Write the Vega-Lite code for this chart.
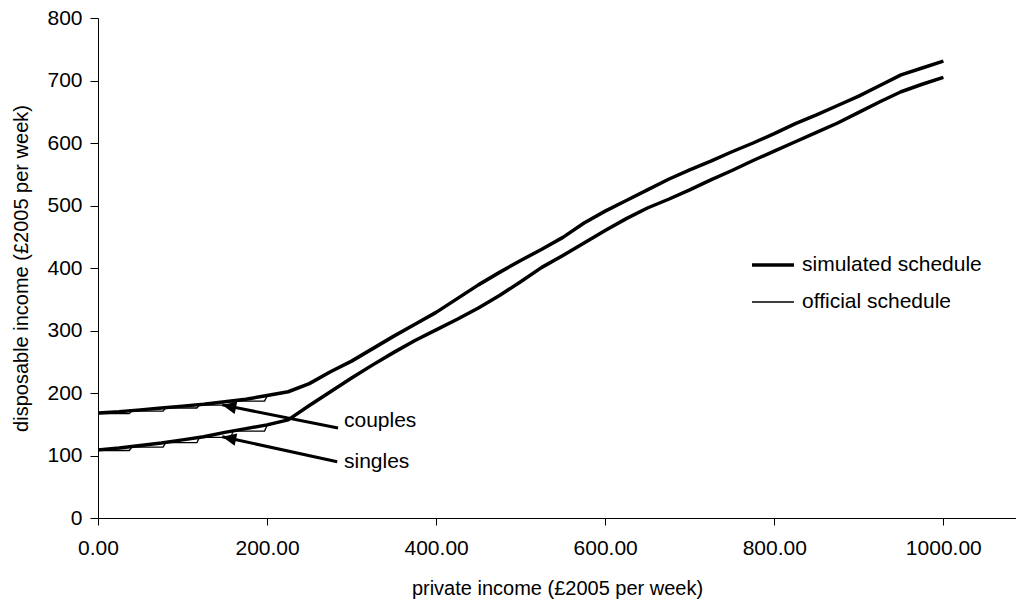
{
  "$schema": "https://vega.github.io/schema/vega-lite/v6.json",
  "width": 918,
  "height": 500,
  "autosize": {"type": "none"},
  "padding": {"left": 98, "top": 18, "right": 0, "bottom": 88},
  "background": "white",
  "config": {
    "font": "Liberation Sans",
    "view": {"stroke": null},
    "axis": {
      "grid": false,
      "domainColor": "#000000",
      "domainWidth": 1,
      "tickColor": "#000000",
      "tickWidth": 1,
      "labelColor": "#000000",
      "titleColor": "#000000",
      "labelFont": "Liberation Sans",
      "titleFont": "Liberation Sans",
      "labelFontSize": 21,
      "titleFontSize": 20,
      "titleFontWeight": "normal"
    }
  },
  "datasets": {
    "schedules": [
      {"household": "couples", "schedule": "simulated schedule", "income": 0, "disposable": 168},
      {"household": "couples", "schedule": "simulated schedule", "income": 25, "disposable": 170},
      {"household": "couples", "schedule": "simulated schedule", "income": 50, "disposable": 173},
      {"household": "couples", "schedule": "simulated schedule", "income": 75, "disposable": 176},
      {"household": "couples", "schedule": "simulated schedule", "income": 100, "disposable": 179},
      {"household": "couples", "schedule": "simulated schedule", "income": 125, "disposable": 182},
      {"household": "couples", "schedule": "simulated schedule", "income": 150, "disposable": 186},
      {"household": "couples", "schedule": "simulated schedule", "income": 175, "disposable": 190},
      {"household": "couples", "schedule": "simulated schedule", "income": 200, "disposable": 196},
      {"household": "couples", "schedule": "simulated schedule", "income": 225, "disposable": 202},
      {"household": "couples", "schedule": "simulated schedule", "income": 250, "disposable": 215},
      {"household": "couples", "schedule": "simulated schedule", "income": 275, "disposable": 234},
      {"household": "couples", "schedule": "simulated schedule", "income": 300, "disposable": 251},
      {"household": "couples", "schedule": "simulated schedule", "income": 325, "disposable": 271},
      {"household": "couples", "schedule": "simulated schedule", "income": 350, "disposable": 291},
      {"household": "couples", "schedule": "simulated schedule", "income": 375, "disposable": 310},
      {"household": "couples", "schedule": "simulated schedule", "income": 400, "disposable": 329},
      {"household": "couples", "schedule": "simulated schedule", "income": 425, "disposable": 351},
      {"household": "couples", "schedule": "simulated schedule", "income": 450, "disposable": 373},
      {"household": "couples", "schedule": "simulated schedule", "income": 475, "disposable": 393},
      {"household": "couples", "schedule": "simulated schedule", "income": 500, "disposable": 412},
      {"household": "couples", "schedule": "simulated schedule", "income": 525, "disposable": 430},
      {"household": "couples", "schedule": "simulated schedule", "income": 550, "disposable": 449},
      {"household": "couples", "schedule": "simulated schedule", "income": 575, "disposable": 472},
      {"household": "couples", "schedule": "simulated schedule", "income": 600, "disposable": 491},
      {"household": "couples", "schedule": "simulated schedule", "income": 625, "disposable": 508},
      {"household": "couples", "schedule": "simulated schedule", "income": 650, "disposable": 525},
      {"household": "couples", "schedule": "simulated schedule", "income": 675, "disposable": 542},
      {"household": "couples", "schedule": "simulated schedule", "income": 700, "disposable": 557},
      {"household": "couples", "schedule": "simulated schedule", "income": 725, "disposable": 571},
      {"household": "couples", "schedule": "simulated schedule", "income": 750, "disposable": 586},
      {"household": "couples", "schedule": "simulated schedule", "income": 775, "disposable": 600},
      {"household": "couples", "schedule": "simulated schedule", "income": 800, "disposable": 615},
      {"household": "couples", "schedule": "simulated schedule", "income": 825, "disposable": 631},
      {"household": "couples", "schedule": "simulated schedule", "income": 850, "disposable": 645},
      {"household": "couples", "schedule": "simulated schedule", "income": 875, "disposable": 660},
      {"household": "couples", "schedule": "simulated schedule", "income": 900, "disposable": 675},
      {"household": "couples", "schedule": "simulated schedule", "income": 925, "disposable": 692},
      {"household": "couples", "schedule": "simulated schedule", "income": 950, "disposable": 709},
      {"household": "couples", "schedule": "simulated schedule", "income": 975, "disposable": 720},
      {"household": "couples", "schedule": "simulated schedule", "income": 1000, "disposable": 731},

      {"household": "singles", "schedule": "simulated schedule", "income": 0, "disposable": 109},
      {"household": "singles", "schedule": "simulated schedule", "income": 25, "disposable": 112},
      {"household": "singles", "schedule": "simulated schedule", "income": 50, "disposable": 116},
      {"household": "singles", "schedule": "simulated schedule", "income": 75, "disposable": 120},
      {"household": "singles", "schedule": "simulated schedule", "income": 100, "disposable": 125},
      {"household": "singles", "schedule": "simulated schedule", "income": 125, "disposable": 130},
      {"household": "singles", "schedule": "simulated schedule", "income": 150, "disposable": 137},
      {"household": "singles", "schedule": "simulated schedule", "income": 175, "disposable": 143},
      {"household": "singles", "schedule": "simulated schedule", "income": 200, "disposable": 149},
      {"household": "singles", "schedule": "simulated schedule", "income": 225, "disposable": 157},
      {"household": "singles", "schedule": "simulated schedule", "income": 250, "disposable": 180},
      {"household": "singles", "schedule": "simulated schedule", "income": 275, "disposable": 202},
      {"household": "singles", "schedule": "simulated schedule", "income": 300, "disposable": 224},
      {"household": "singles", "schedule": "simulated schedule", "income": 325, "disposable": 245},
      {"household": "singles", "schedule": "simulated schedule", "income": 350, "disposable": 265},
      {"household": "singles", "schedule": "simulated schedule", "income": 375, "disposable": 284},
      {"household": "singles", "schedule": "simulated schedule", "income": 400, "disposable": 301},
      {"household": "singles", "schedule": "simulated schedule", "income": 425, "disposable": 318},
      {"household": "singles", "schedule": "simulated schedule", "income": 450, "disposable": 336},
      {"household": "singles", "schedule": "simulated schedule", "income": 475, "disposable": 356},
      {"household": "singles", "schedule": "simulated schedule", "income": 500, "disposable": 378},
      {"household": "singles", "schedule": "simulated schedule", "income": 525, "disposable": 401},
      {"household": "singles", "schedule": "simulated schedule", "income": 550, "disposable": 420},
      {"household": "singles", "schedule": "simulated schedule", "income": 575, "disposable": 440},
      {"household": "singles", "schedule": "simulated schedule", "income": 600, "disposable": 460},
      {"household": "singles", "schedule": "simulated schedule", "income": 625, "disposable": 479},
      {"household": "singles", "schedule": "simulated schedule", "income": 650, "disposable": 496},
      {"household": "singles", "schedule": "simulated schedule", "income": 675, "disposable": 510},
      {"household": "singles", "schedule": "simulated schedule", "income": 700, "disposable": 525},
      {"household": "singles", "schedule": "simulated schedule", "income": 725, "disposable": 541},
      {"household": "singles", "schedule": "simulated schedule", "income": 750, "disposable": 556},
      {"household": "singles", "schedule": "simulated schedule", "income": 775, "disposable": 572},
      {"household": "singles", "schedule": "simulated schedule", "income": 800, "disposable": 587},
      {"household": "singles", "schedule": "simulated schedule", "income": 825, "disposable": 602},
      {"household": "singles", "schedule": "simulated schedule", "income": 850, "disposable": 617},
      {"household": "singles", "schedule": "simulated schedule", "income": 875, "disposable": 632},
      {"household": "singles", "schedule": "simulated schedule", "income": 900, "disposable": 649},
      {"household": "singles", "schedule": "simulated schedule", "income": 925, "disposable": 666},
      {"household": "singles", "schedule": "simulated schedule", "income": 950, "disposable": 682},
      {"household": "singles", "schedule": "simulated schedule", "income": 975, "disposable": 694},
      {"household": "singles", "schedule": "simulated schedule", "income": 1000, "disposable": 705},

      {"household": "couples", "schedule": "official schedule", "income": 0, "disposable": 167},
      {"household": "couples", "schedule": "official schedule", "income": 37, "disposable": 167},
      {"household": "couples", "schedule": "official schedule", "income": 40, "disposable": 171},
      {"household": "couples", "schedule": "official schedule", "income": 77, "disposable": 171},
      {"household": "couples", "schedule": "official schedule", "income": 80, "disposable": 176},
      {"household": "couples", "schedule": "official schedule", "income": 117, "disposable": 176},
      {"household": "couples", "schedule": "official schedule", "income": 120, "disposable": 180.5},
      {"household": "couples", "schedule": "official schedule", "income": 157, "disposable": 180.5},
      {"household": "couples", "schedule": "official schedule", "income": 160, "disposable": 187},
      {"household": "couples", "schedule": "official schedule", "income": 197, "disposable": 187},
      {"household": "couples", "schedule": "official schedule", "income": 200, "disposable": 195},
      {"household": "couples", "schedule": "official schedule", "income": 225, "disposable": 202},
      {"household": "couples", "schedule": "official schedule", "income": 250, "disposable": 215},
      {"household": "couples", "schedule": "official schedule", "income": 275, "disposable": 234},
      {"household": "couples", "schedule": "official schedule", "income": 300, "disposable": 251},
      {"household": "couples", "schedule": "official schedule", "income": 325, "disposable": 271},
      {"household": "couples", "schedule": "official schedule", "income": 350, "disposable": 291},
      {"household": "couples", "schedule": "official schedule", "income": 375, "disposable": 310},
      {"household": "couples", "schedule": "official schedule", "income": 400, "disposable": 329},
      {"household": "couples", "schedule": "official schedule", "income": 425, "disposable": 351},
      {"household": "couples", "schedule": "official schedule", "income": 450, "disposable": 373},
      {"household": "couples", "schedule": "official schedule", "income": 475, "disposable": 393},
      {"household": "couples", "schedule": "official schedule", "income": 500, "disposable": 412},
      {"household": "couples", "schedule": "official schedule", "income": 525, "disposable": 430},
      {"household": "couples", "schedule": "official schedule", "income": 550, "disposable": 449},
      {"household": "couples", "schedule": "official schedule", "income": 575, "disposable": 472},
      {"household": "couples", "schedule": "official schedule", "income": 600, "disposable": 491},
      {"household": "couples", "schedule": "official schedule", "income": 625, "disposable": 508},
      {"household": "couples", "schedule": "official schedule", "income": 650, "disposable": 525},
      {"household": "couples", "schedule": "official schedule", "income": 675, "disposable": 542},
      {"household": "couples", "schedule": "official schedule", "income": 700, "disposable": 557},
      {"household": "couples", "schedule": "official schedule", "income": 725, "disposable": 571},
      {"household": "couples", "schedule": "official schedule", "income": 750, "disposable": 586},
      {"household": "couples", "schedule": "official schedule", "income": 775, "disposable": 600},
      {"household": "couples", "schedule": "official schedule", "income": 800, "disposable": 615},
      {"household": "couples", "schedule": "official schedule", "income": 825, "disposable": 631},
      {"household": "couples", "schedule": "official schedule", "income": 850, "disposable": 645},
      {"household": "couples", "schedule": "official schedule", "income": 875, "disposable": 660},
      {"household": "couples", "schedule": "official schedule", "income": 900, "disposable": 675},
      {"household": "couples", "schedule": "official schedule", "income": 925, "disposable": 692},
      {"household": "couples", "schedule": "official schedule", "income": 950, "disposable": 709},
      {"household": "couples", "schedule": "official schedule", "income": 975, "disposable": 720},
      {"household": "couples", "schedule": "official schedule", "income": 1000, "disposable": 731},

      {"household": "singles", "schedule": "official schedule", "income": 0, "disposable": 108},
      {"household": "singles", "schedule": "official schedule", "income": 37, "disposable": 108},
      {"household": "singles", "schedule": "official schedule", "income": 40, "disposable": 113.5},
      {"household": "singles", "schedule": "official schedule", "income": 77, "disposable": 113.5},
      {"household": "singles", "schedule": "official schedule", "income": 80, "disposable": 120.5},
      {"household": "singles", "schedule": "official schedule", "income": 117, "disposable": 120.5},
      {"household": "singles", "schedule": "official schedule", "income": 120, "disposable": 129},
      {"household": "singles", "schedule": "official schedule", "income": 157, "disposable": 129},
      {"household": "singles", "schedule": "official schedule", "income": 160, "disposable": 139},
      {"household": "singles", "schedule": "official schedule", "income": 197, "disposable": 139},
      {"household": "singles", "schedule": "official schedule", "income": 200, "disposable": 148},
      {"household": "singles", "schedule": "official schedule", "income": 225, "disposable": 157},
      {"household": "singles", "schedule": "official schedule", "income": 250, "disposable": 180},
      {"household": "singles", "schedule": "official schedule", "income": 275, "disposable": 202},
      {"household": "singles", "schedule": "official schedule", "income": 300, "disposable": 224},
      {"household": "singles", "schedule": "official schedule", "income": 325, "disposable": 245},
      {"household": "singles", "schedule": "official schedule", "income": 350, "disposable": 265},
      {"household": "singles", "schedule": "official schedule", "income": 375, "disposable": 284},
      {"household": "singles", "schedule": "official schedule", "income": 400, "disposable": 301},
      {"household": "singles", "schedule": "official schedule", "income": 425, "disposable": 318},
      {"household": "singles", "schedule": "official schedule", "income": 450, "disposable": 336},
      {"household": "singles", "schedule": "official schedule", "income": 475, "disposable": 356},
      {"household": "singles", "schedule": "official schedule", "income": 500, "disposable": 378},
      {"household": "singles", "schedule": "official schedule", "income": 525, "disposable": 401},
      {"household": "singles", "schedule": "official schedule", "income": 550, "disposable": 420},
      {"household": "singles", "schedule": "official schedule", "income": 575, "disposable": 440},
      {"household": "singles", "schedule": "official schedule", "income": 600, "disposable": 460},
      {"household": "singles", "schedule": "official schedule", "income": 625, "disposable": 479},
      {"household": "singles", "schedule": "official schedule", "income": 650, "disposable": 496},
      {"household": "singles", "schedule": "official schedule", "income": 675, "disposable": 510},
      {"household": "singles", "schedule": "official schedule", "income": 700, "disposable": 525},
      {"household": "singles", "schedule": "official schedule", "income": 725, "disposable": 541},
      {"household": "singles", "schedule": "official schedule", "income": 750, "disposable": 556},
      {"household": "singles", "schedule": "official schedule", "income": 775, "disposable": 572},
      {"household": "singles", "schedule": "official schedule", "income": 800, "disposable": 587},
      {"household": "singles", "schedule": "official schedule", "income": 825, "disposable": 602},
      {"household": "singles", "schedule": "official schedule", "income": 850, "disposable": 617},
      {"household": "singles", "schedule": "official schedule", "income": 875, "disposable": 632},
      {"household": "singles", "schedule": "official schedule", "income": 900, "disposable": 649},
      {"household": "singles", "schedule": "official schedule", "income": 925, "disposable": 666},
      {"household": "singles", "schedule": "official schedule", "income": 950, "disposable": 682},
      {"household": "singles", "schedule": "official schedule", "income": 975, "disposable": 694},
      {"household": "singles", "schedule": "official schedule", "income": 1000, "disposable": 705}
    ],
    "callouts": [
      {"household": "couples", "fromIncome": 284, "fromDisposable": 144, "toIncome": 147, "toDisposable": 181, "labelIncome": 291, "labelDisposable": 155},
      {"household": "singles", "fromIncome": 283, "fromDisposable": 90, "toIncome": 147, "toDisposable": 130, "labelIncome": 291, "labelDisposable": 89}
    ]
  },
  "layer": [
    {
      "data": {"name": "schedules"},
      "mark": {"type": "line", "color": "#000000", "strokeJoin": "round"},
      "encoding": {
        "x": {
          "field": "income",
          "type": "quantitative",
          "scale": {"domain": [0, 1086], "nice": false, "zero": false},
          "axis": {
            "values": [0, 200, 400, 600, 800, 1000],
            "format": ".2f",
            "title": "private income (£2005 per week)",
            "tickSize": 7,
            "labelPadding": 12,
            "titlePadding": 20,
            "labelFlush": false
          }
        },
        "y": {
          "field": "disposable",
          "type": "quantitative",
          "scale": {"domain": [0, 800], "nice": false},
          "axis": {
            "values": [0, 100, 200, 300, 400, 500, 600, 700, 800],
            "title": "disposable income (£2005 per week)",
            "tickSize": 8,
            "labelPadding": 8,
            "titlePadding": 15
          }
        },
        "detail": {"field": "household", "type": "nominal"},
        "strokeWidth": {
          "field": "schedule",
          "type": "ordinal",
          "sort": ["simulated schedule", "official schedule"],
          "scale": {"domain": ["simulated schedule", "official schedule"], "range": [3.5, 1.3]},
          "legend": {
            "orient": "none",
            "legendX": 652,
            "legendY": 224,
            "title": null,
            "symbolType": "stroke",
            "symbolSize": 1764,
            "symbolStrokeColor": "#000000",
            "labelFont": "Liberation Sans",
            "labelFontSize": 21,
            "labelColor": "#000000",
            "labelLimit": 0,
            "labelOffset": 6,
            "rowPadding": 5
          }
        }
      }
    },
    {
      "data": {"name": "callouts"},
      "mark": {"type": "rule", "color": "#000000", "strokeWidth": 3},
      "encoding": {
        "x": {"field": "fromIncome", "type": "quantitative", "scale": {"domain": [0, 1086], "nice": false, "zero": false}},
        "y": {"field": "fromDisposable", "type": "quantitative", "scale": {"domain": [0, 800], "nice": false}},
        "x2": {"field": "toIncome"},
        "y2": {"field": "toDisposable"}
      }
    },
    {
      "data": {"name": "callouts"},
      "mark": {"type": "point", "shape": "M0,0L-0.9,2L0.9,2Z", "filled": true, "color": "#000000", "opacity": 1, "size": 196, "angle": 282, "strokeWidth": 0},
      "encoding": {
        "x": {"field": "toIncome", "type": "quantitative", "scale": {"domain": [0, 1086], "nice": false, "zero": false}},
        "y": {"field": "toDisposable", "type": "quantitative", "scale": {"domain": [0, 800], "nice": false}}
      }
    },
    {
      "data": {"name": "callouts"},
      "mark": {"type": "text", "align": "left", "baseline": "middle", "font": "Liberation Sans", "fontSize": 21, "color": "#000000"},
      "encoding": {
        "x": {"field": "labelIncome", "type": "quantitative", "scale": {"domain": [0, 1086], "nice": false, "zero": false}},
        "y": {"field": "labelDisposable", "type": "quantitative", "scale": {"domain": [0, 800], "nice": false}},
        "text": {"field": "household", "type": "nominal"}
      }
    }
  ]
}
